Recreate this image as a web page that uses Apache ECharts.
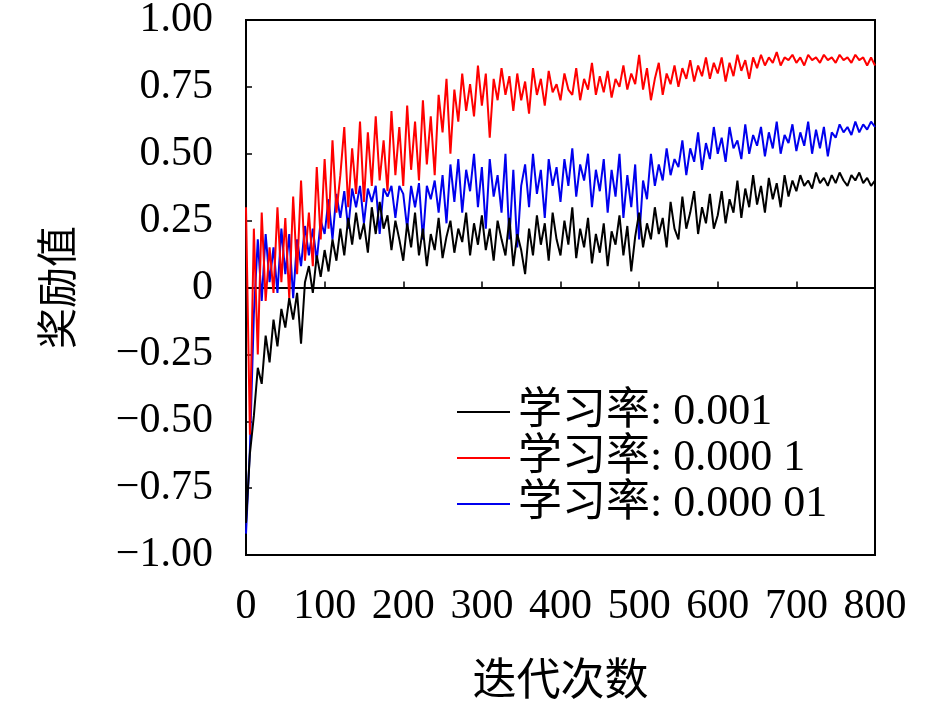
<!DOCTYPE html>
<html lang="zh-CN">
  <head>
    <meta charset="utf-8">
    <title>奖励值曲线</title>
    <script type="text/javascript" src="https://cdn.jsdelivr.net/npm/echarts@6/dist/echarts.min.js"></script>
    <style>
      html, body { margin: 0; padding: 0; background: #fff; }
      #chart { width: 945px; height: 703px; }
    </style>
  </head>
  <body>
    <div id="chart"></div>

    <script>
      // 每 5 次迭代取一个点, 0..800
      var step = 5;

      // 学习率 0.001 (黑)
      var black = [
        -0.88, -0.62, -0.48, -0.30, -0.36, -0.18, -0.28, -0.12, -0.22, -0.08,
        -0.15, -0.04, -0.12, -0.02, -0.21, 0.02, 0.08, -0.02, 0.12, 0.04,
        0.14, 0.06, 0.18, 0.10, 0.22, 0.12, 0.26, 0.16, 0.28, 0.18,
        0.24, 0.13, 0.30, 0.20, 0.32, 0.22, 0.27, 0.14, 0.25, 0.18,
        0.10, 0.24, 0.15, 0.28, 0.12, 0.22, 0.08, 0.20, 0.14, 0.26,
        0.11, 0.19, 0.25, 0.13, 0.22, 0.17, 0.28, 0.12, 0.24, 0.16,
        0.27, 0.14, 0.22, 0.10, 0.25, 0.18, 0.12, 0.26, 0.08, 0.20,
        0.14, 0.05, 0.22, 0.12, 0.27, 0.16, 0.24, 0.10, 0.28, 0.18,
        0.12, 0.25, 0.16, 0.30, 0.11, 0.22, 0.15, 0.26, 0.09, 0.20,
        0.13, 0.24, 0.08, 0.21, 0.16, 0.27, 0.12, 0.23, 0.06, 0.19,
        0.28, 0.15, 0.24, 0.18, 0.30, 0.20, 0.26, 0.15, 0.32, 0.22,
        0.18, 0.34, 0.22, 0.28, 0.36, 0.20, 0.30, 0.24, 0.35, 0.22,
        0.27, 0.36, 0.24, 0.33, 0.28, 0.40, 0.26, 0.37, 0.30, 0.42,
        0.31, 0.38, 0.28, 0.41, 0.33, 0.39, 0.30, 0.42, 0.34, 0.40,
        0.36, 0.42, 0.38, 0.40, 0.37, 0.43, 0.39, 0.41, 0.38, 0.42,
        0.39, 0.43, 0.40, 0.38, 0.42, 0.40, 0.43, 0.39, 0.41, 0.38,
        0.40
      ];

      // 学习率 0.000 1 (红)
      var red = [
        0.30, -0.55, 0.22, -0.25, 0.28, -0.05, 0.15, -0.02, 0.30, 0.02,
        0.26, -0.04, 0.34, 0.05, 0.40, 0.10, 0.28, 0.08, 0.45, 0.18,
        0.48, 0.22, 0.55, 0.28, 0.42, 0.60, 0.30, 0.52, 0.35, 0.62,
        0.32, 0.58, 0.38, 0.64, 0.40, 0.55, 0.36, 0.66, 0.42, 0.60,
        0.38, 0.68, 0.44, 0.62, 0.40, 0.70, 0.46, 0.64, 0.42, 0.72,
        0.58, 0.78, 0.50, 0.74, 0.62, 0.80, 0.66, 0.76, 0.64, 0.83,
        0.68, 0.80, 0.56, 0.78, 0.70, 0.82, 0.72, 0.79, 0.66, 0.80,
        0.70, 0.77, 0.65, 0.82, 0.72, 0.78, 0.68, 0.81, 0.73, 0.76,
        0.70, 0.80, 0.74, 0.72, 0.82, 0.70, 0.78, 0.74, 0.84, 0.72,
        0.79, 0.73, 0.81, 0.71, 0.78, 0.75, 0.83, 0.74, 0.80, 0.76,
        0.87, 0.74, 0.82, 0.70, 0.78, 0.84, 0.72, 0.80, 0.76, 0.83,
        0.75, 0.82, 0.78, 0.85, 0.77, 0.83, 0.79, 0.86, 0.78, 0.84,
        0.80, 0.86, 0.77, 0.84, 0.79, 0.87, 0.81, 0.85, 0.78, 0.86,
        0.82, 0.87, 0.83, 0.86, 0.84, 0.88, 0.83, 0.86, 0.85, 0.87,
        0.84, 0.86, 0.83, 0.87, 0.85, 0.86, 0.84, 0.87, 0.85, 0.86,
        0.84, 0.87, 0.85, 0.86, 0.84, 0.87, 0.85, 0.86, 0.83, 0.86,
        0.83
      ];

      // 学习率 0.000 01 (蓝)
      var blue = [
        -0.92, -0.60, -0.10, 0.18, -0.05, 0.20, 0.02, 0.15, -0.02, 0.22,
        0.05, 0.20, -0.04, 0.18, 0.08, 0.23, 0.12, 0.22, 0.10, 0.25,
        0.20, 0.33, 0.18, 0.35, 0.26, 0.36, 0.22, 0.37, 0.30, 0.38,
        0.24, 0.37, 0.32, 0.38, 0.20, 0.37, 0.34, 0.38, 0.26, 0.38,
        0.35, 0.22, 0.38, 0.30, 0.39, 0.18, 0.38, 0.33, 0.40, 0.28,
        0.42, 0.24, 0.46, 0.32, 0.48, 0.28, 0.44, 0.36, 0.50, 0.30,
        0.45, 0.22, 0.48, 0.34, 0.42, 0.28, 0.50, 0.18, 0.44, 0.15,
        0.38, 0.46, 0.30, 0.50, 0.35, 0.44, 0.26, 0.48, 0.38, 0.45,
        0.32, 0.48, 0.38, 0.52, 0.34, 0.46, 0.40, 0.50, 0.30, 0.44,
        0.36, 0.48, 0.28, 0.44, 0.34, 0.50, 0.26, 0.42, 0.30, 0.46,
        0.18, 0.40, 0.33, 0.50, 0.38, 0.46, 0.40, 0.52, 0.42, 0.48,
        0.45, 0.55, 0.42, 0.52, 0.47, 0.58, 0.44, 0.54, 0.48, 0.60,
        0.50, 0.56, 0.47, 0.60, 0.52, 0.55, 0.48, 0.61, 0.50, 0.57,
        0.53, 0.60, 0.49, 0.58, 0.52, 0.62, 0.50, 0.57, 0.54, 0.61,
        0.51, 0.58, 0.53, 0.62, 0.50, 0.59, 0.52, 0.60, 0.49, 0.58,
        0.56, 0.61, 0.58, 0.60, 0.57, 0.62, 0.58, 0.61, 0.59, 0.62,
        0.60
      ];

      var names = ['学习率: 0.001', '学习率: 0.000 1', '学习率: 0.000 01'];

      function pairs(arr){
        var out = [];
        for(var i = 0; i < arr.length; i++){
          out.push([i * step, arr[i]]);
        }
        return out;
      }

      var serif = '"Liberation Serif", "Noto Sans CJK SC", serif';

      var chart = echarts.init(document.getElementById('chart'));
      chart.setOption({
        animation: false,
        backgroundColor: '#fff',
        grid: {
          left: 246, top: 20, right: 70, bottom: 148,
          outerBoundsMode: 'none',
          show: true, borderColor: '#000', borderWidth: 2
        },
        legend: {
          data: names,
          orient: 'vertical',
          left: 452, top: 384,
          icon: 'rect',
          itemWidth: 53, itemHeight: 2, itemGap: 0,
          textStyle: {
            fontFamily: serif, fontSize: 44, color: '#000',
            lineHeight: 46, padding: [0, 0, 0, 3]
          }
        },
        xAxis: {
          type: 'value',
          min: 0, max: 800, interval: 100,
          name: '迭代次数',
          nameLocation: 'middle',
          nameGap: 106,
          nameTextStyle: { fontFamily: serif, fontSize: 44, color: '#000' },
          axisLine: { show: true, lineStyle: { color: '#000', width: 2 } },
          axisTick: { inside: true, length: 6, lineStyle: { color: '#000', width: 1.5 } },
          axisLabel: { margin: 31, fontFamily: serif, fontSize: 42, color: '#000' },
          splitLine: { show: false }
        },
        yAxis: {
          type: 'value',
          min: -1, max: 1, interval: 0.25,
          name: '奖励值',
          nameLocation: 'middle',
          nameRotate: 90,
          nameGap: 164,
          nameTextStyle: { fontFamily: serif, fontSize: 41, color: '#000' },
          axisLine: { show: true, lineStyle: { color: '#000', width: 2 } },
          axisTick: { inside: true, length: 6, lineStyle: { color: '#000', width: 1.5 } },
          axisLabel: {
            margin: 33, fontFamily: serif, fontSize: 42, color: '#000',
            formatter: function(v){
              if(Math.abs(v) < 1e-9) return '0';
              var s = Math.abs(v).toFixed(2);
              return v < 0 ? '\u2212' + s : s;
            }
          },
          splitLine: { show: false }
        },
        series: [
          {
            name: names[2], type: 'line', data: pairs(blue),
            symbol: 'none', color: '#0000ee',
            lineStyle: { color: '#0000ee', width: 2 }
          },
          {
            name: names[1], type: 'line', data: pairs(red),
            symbol: 'none', color: '#ff0000',
            lineStyle: { color: '#ff0000', width: 2 }
          },
          {
            name: names[0], type: 'line', data: pairs(black),
            symbol: 'none', color: '#000',
            lineStyle: { color: '#000', width: 2 }
          }
        ]
      });
    </script>
  </body>
</html>
